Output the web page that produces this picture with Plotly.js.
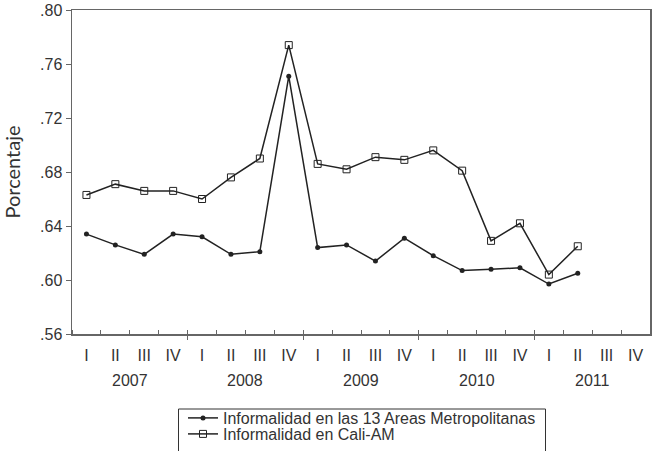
<!DOCTYPE html>
<html>
<head>
<meta charset="utf-8">
<script src="https://cdn.plot.ly/plotly-3.0.1.min.js"></script>
<style>html,body{margin:0;padding:0;background:#fff;}#chart{width:654px;height:451px;}</style>
</head>
<body>
<div id="chart"></div>
<script>
// Quarters 2007-I ... 2011-IV (index positions)
const quarterLabels = ["I","II","III","IV","I","II","III","IV","I","II","III","IV","I","II","III","IV","I","II","III","IV"];
const years = ["2007","2008","2009","2010","2011"];
const quarterIndex = [0,1,2,3,4,5,6,7,8,9,10,11,12,13,14,15,16,17,18,19];
const yearCenters = [1.5,5.5,9.5,13.5,17.5];
const yearBoundaries = [3.5,7.5,11.5,15.5];

const seriesAreasName = "Informalidad en las 13 Areas Metropolitanas";
const seriesAreas = [0.634,0.626,0.619,0.634,0.632,0.619,0.621,0.751,0.624,0.626,0.614,0.631,0.618,0.607,0.608,0.609,0.597,0.605];

const seriesCaliName = "Informalidad en Cali-AM";
const seriesCali = [0.663,0.671,0.666,0.666,0.660,0.676,0.690,0.774,0.686,0.682,0.691,0.689,0.696,0.681,0.629,0.642,0.604,0.625];

const yTickVals = [0.56,0.60,0.64,0.68,0.72,0.76,0.80];
const yTickText = [".56",".60",".64",".68",".72",".76",".80"];

const lineColor = "#222";
const axisColor = "#666";
const textFont = {family:"Liberation Sans, Arial, sans-serif", size:16, color:"#333"};

const traces = [
  {
    x: quarterIndex.slice(0, seriesAreas.length), y: seriesAreas, name: seriesAreasName,
    type: "scatter", mode: "lines+markers", legend: "legend",
    line: {color: lineColor, width: 1.5},
    marker: {symbol: "circle", size: 5, color: lineColor}
  },
  {
    x: quarterIndex.slice(0, seriesCali.length), y: seriesCali, name: seriesCaliName,
    type: "scatter", mode: "lines+markers", legend: "legend2",
    line: {color: lineColor, width: 1.5},
    marker: {symbol: "square-open", size: 7, color: lineColor, line: {width: 1}}
  },
  // invisible trace carrying the year-boundary outside ticks on xaxis2
  {
    x: [yearBoundaries[0]], y: [0.56], xaxis: "x2", yaxis: "y",
    type: "scatter", mode: "markers", marker: {opacity: 0}, showlegend: false, hoverinfo: "skip"
  }
];

// Plot area: top 10px, bottom at pixel 334 of a 451px figure, bottom margin 0
const H = 451, T = 10, B = 0, L = 72, R = 4, W = 654;
const plotBottomPx = 334;
const paperY = px => (H - B - px) / (H - T - B);
const paperX = px => (px - L) / (W - L - R);

const legendCommon = {
  xanchor: "left", yanchor: "bottom", bgcolor: "rgba(0,0,0,0)", borderwidth: 0,
  font: textFont, x: paperX(183)
};

const layout = {
  width: W, height: H,
  margin: {l: L, r: R, t: T, b: B},
  paper_bgcolor: "#fff", plot_bgcolor: "#fff",
  showlegend: true,
  font: textFont,
  xaxis: {
    range: [-0.5, 19.5], anchor: "y",
    tickmode: "array", tickvals: quarterIndex, ticktext: quarterLabels,
    ticks: "", showgrid: false, zeroline: false,
    showline: true, linecolor: axisColor, linewidth: 1.5, mirror: true,
    tickfont: textFont, ticklabelstandoff: 6,
    minor: {tickmode: "linear", tick0: -0.5, dtick: 1, ticks: "inside", ticklen: 4, tickcolor: axisColor, showgrid: false}
  },
  xaxis2: {
    overlaying: "x", anchor: "y", side: "bottom",
    range: [-0.5, 19.5],
    tickmode: "array", tickvals: yearBoundaries, ticktext: yearBoundaries.map(() => ""),
    ticks: "outside", ticklen: 5, tickcolor: axisColor, tickwidth: 1,
    showgrid: false, zeroline: false, showline: false, showticklabels: false
  },
  yaxis: {
    domain: [paperY(plotBottomPx), 1],
    range: [0.56, 0.80],
    tickmode: "array", tickvals: yTickVals, ticktext: yTickText,
    ticks: "outside", ticklen: 5, tickcolor: axisColor,
    showgrid: false, zeroline: false,
    showline: true, linecolor: axisColor, linewidth: 1.5, mirror: true,
    tickfont: textFont,
    title: {text: "Porcentaje", font: {family: "Lato, Open Sans, sans-serif", size: 20, color: "#333"}, standoff: 16}
  },
  legend: Object.assign({}, legendCommon, {y: paperY(435)}),
  legend2: Object.assign({}, legendCommon, {y: paperY(451)}),
  shapes: [
    {type: "rect", xref: "paper", yref: "paper",
     x0: paperX(178.5), x1: paperX(545.5), y0: paperY(409), y1: paperY(470),
     line: {color: "#333", width: 1}, fillcolor: "rgba(0,0,0,0)", layer: "below"}
  ],
  annotations: years.map((yr, i) => ({
    x: yearCenters[i], y: 0, xref: "x", yref: "y domain", yanchor: "middle",
    yshift: -47, text: yr, showarrow: false, font: textFont
  }))
};

Plotly.newPlot("chart", traces, layout, {displayModeBar: false, staticPlot: true});
</script>
</body>
</html>
